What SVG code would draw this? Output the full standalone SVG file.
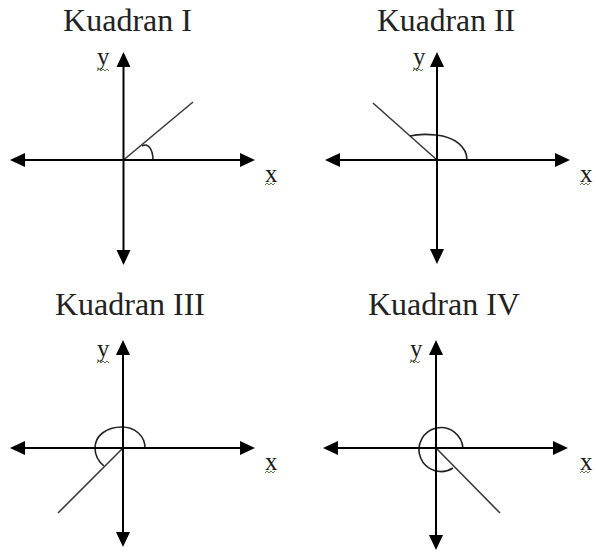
<svg xmlns="http://www.w3.org/2000/svg" width="596" height="554" viewBox="0 0 596 554">
<defs>
<style>
.bg{fill:#ffffff}
.title{font-family:"Liberation Serif","Times New Roman",serif;font-size:31px;fill:#222}
.lbl{font-family:"Liberation Serif","Times New Roman",serif;font-size:25px;fill:#1a1a1a}
.axis{stroke:#000;stroke-width:2;fill:none;marker-start:url(#ah);marker-end:url(#ah)}
.ray{stroke:#3a3a3a;stroke-width:1.6;fill:none}
.arc{stroke:#222;stroke-width:1.6;fill:none}
.sq{stroke:#5c7f4c;stroke-width:1;fill:none}
</style>
<marker id="ah" markerUnits="userSpaceOnUse" markerWidth="15" markerHeight="15" viewBox="0 0 15 15" refX="8" refY="7.5" orient="auto-start-reverse">
<path d="M0,0.5 L15,7.5 L0,14.5 z" fill="#000"/>
</marker>
</defs>
<rect class="bg" x="0" y="0" width="596" height="554"/>

<g id="q1">
<text class="title" x="63" y="31" textLength="129" lengthAdjust="spacingAndGlyphs">Kuadran I</text>
<text class="lbl" x="97" y="65">y</text>
<path class="sq" d="M97,71 l2,-2 l2,2 l2,-2 l2,2 l2,-2 l2,2"/>
<text class="lbl" x="265" y="182">x</text>
<path class="sq" d="M265,185 l2,-2 l2,2 l2,-2 l2,2 l2,-2"/>
<path class="ray" d="M123.5,160 L193,102"/>
<path class="arc" d="M142,146 C149,142 153,151 153,160"/>
</g>

<g id="q2">
<text class="title" x="377" y="31" textLength="138" lengthAdjust="spacingAndGlyphs">Kuadran II</text>
<text class="lbl" x="413" y="65">y</text>
<path class="sq" d="M413,71 l2,-2 l2,2 l2,-2 l2,2 l2,-2"/>
<text class="lbl" x="580" y="182">x</text>
<path class="sq" d="M580,185 l2,-2 l2,2 l2,-2 l2,2 l2,-2"/>
<path class="ray" d="M437,160 L373,103"/>
<path class="arc" d="M410,136 C418,134 426,134 436,135 C455,137 467,147 467,160"/>
</g>

<g id="q3">
<text class="title" x="55" y="315" textLength="150" lengthAdjust="spacingAndGlyphs">Kuadran III</text>
<text class="lbl" x="97" y="357">y</text>
<path class="sq" d="M97,363 l2,-2 l2,2 l2,-2 l2,2 l2,-2 l2,2"/>
<text class="lbl" x="265" y="470">x</text>
<path class="sq" d="M265,473 l2,-2 l2,2 l2,-2 l2,2 l2,-2"/>
<path class="ray" d="M123,448 L58,513"/>
<path class="arc" d="M145,448 C145,436 135,427 122,427 C106,427 95,436 95,448 C95,456 99,462 104,466"/>
</g>

<g id="q4">
<text class="title" x="368" y="315" textLength="152" lengthAdjust="spacingAndGlyphs">Kuadran IV</text>
<text class="lbl" x="410" y="357">y</text>
<path class="sq" d="M410,363 l2,-2 l2,2 l2,-2 l2,2 l2,-2"/>
<text class="lbl" x="580" y="470">x</text>
<path class="sq" d="M580,473 l2,-2 l2,2 l2,-2 l2,2 l2,-2"/>
<path class="ray" d="M436,448 L500,513"/>
<path class="arc" d="M463,449 A22,22 0 1 0 453,468"/>
</g>

<g id="connectors">
<line class="axis" x1="17" y1="160" x2="248" y2="160"/>
<line class="axis" x1="123.5" y1="59" x2="123.5" y2="258"/>
<line class="axis" x1="332" y1="160" x2="563" y2="160"/>
<line class="axis" x1="437" y1="59" x2="437" y2="257"/>
<line class="axis" x1="17" y1="448" x2="248" y2="448"/>
<line class="axis" x1="123" y1="347" x2="123" y2="540"/>
<line class="axis" x1="330" y1="448" x2="561" y2="448"/>
<line class="axis" x1="436" y1="347" x2="436" y2="543"/>
</g>
</svg>
